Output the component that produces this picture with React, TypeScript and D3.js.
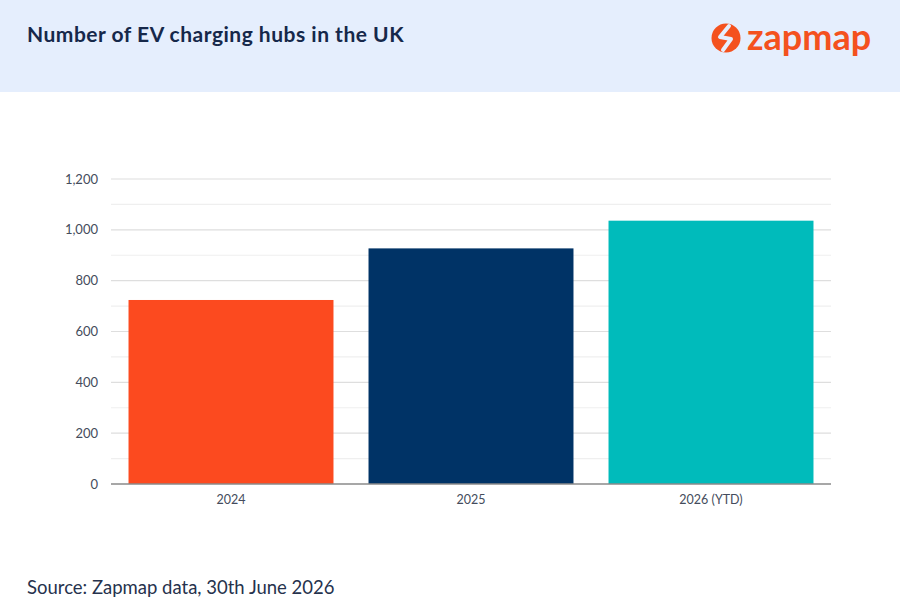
import React, { useEffect, useRef } from 'react';
import * as d3 from 'd3';

// chart data
const years = ['2024', '2025', '2026 (YTD)'];
const hubs = [724, 927, 1036];
const barColours = ['#fc4a1f', '#003366', '#00bbbb'];
const yTicks = [0, 200, 400, 600, 800, 1000, 1200];

const W = 900;
const H = 607;
const margin = { top: 179, right: 69, bottom: 123, left: 111 };
const FONT = 'Lato, "Noto Sans", sans-serif';

const App = () => {
  const svgRef = useRef<SVGSVGElement>(null);

  useEffect(() => {
    document.body.style.margin = '0';
    const svg = d3.select(svgRef.current);
    svg.selectAll('*').remove();

    const width = W - margin.left - margin.right;
    const height = H - margin.top - margin.bottom;

    // header band
    svg.append('rect')
      .attr('width', W).attr('height', 92)
      .attr('fill', '#e5eefd');

    svg.append('text')
      .attr('x', 27).attr('y', 42)
      .attr('font-family', FONT)
      .attr('font-size', 21)
      .attr('font-weight', 700)
      .attr('letter-spacing', 0.5)
      .attr('fill', '#16284a')
      .text('Number of EV charging hubs in the UK');

    // logo
    const logo = svg.append('g').attr('transform', 'translate(726,38)');
    logo.append('circle').attr('r', 14.5).attr('fill', '#f4511e');
    logo.append('path')
      .attr('d', 'M3,-12 L-6,-1 L5,1 L-3,12')
      .attr('fill', 'none')
      .attr('stroke', '#e5eefd')
      .attr('stroke-width', 4)
      .attr('stroke-linejoin', 'round')
      .attr('stroke-linecap', 'round');
    svg.append('text')
      .attr('x', 747).attr('y', 50)
      .attr('font-family', FONT)
      .attr('font-size', 36)
      .attr('font-weight', 700)
      .attr('fill', '#f4511e')
      .text('zapmap');

    const g = svg.append('g')
      .attr('transform', `translate(${margin.left},${margin.top})`);

    const x = d3.scaleBand()
      .domain(years)
      .range([0, width])
      .paddingInner(0.146)
      .paddingOuter(0.073);

    const y = d3.scaleLinear()
      .domain([0, 1200])
      .range([height, 0]);

    // minor + major gridlines every 100
    const gridVals = d3.range(100, 1201, 100);
    g.selectAll('.grid')
      .data(gridVals)
      .enter()
      .append('line')
      .attr('x1', 0).attr('x2', width)
      .attr('y1', d => y(d)).attr('y2', d => y(d))
      .attr('stroke', d => (d % 200 === 0 ? '#dedede' : '#efefef'))
      .attr('stroke-width', 1.2);

    g.selectAll('.bar')
      .data(years)
      .enter()
      .append('rect')
      .attr('x', d => x(d)!)
      .attr('y', (d, i) => y(hubs[i]))
      .attr('width', x.bandwidth())
      .attr('height', (d, i) => height - y(hubs[i]))
      .attr('fill', (d, i) => barColours[i]);

    // baseline
    g.append('line')
      .attr('x1', 0).attr('x2', width)
      .attr('y1', height).attr('y2', height)
      .attr('stroke', '#8a8a8a')
      .attr('stroke-width', 1.5);

    // y tick labels
    g.selectAll('.ytick')
      .data(yTicks)
      .enter()
      .append('text')
      .attr('x', -13)
      .attr('y', d => y(d))
      .attr('dy', '0.35em')
      .attr('text-anchor', 'end')
      .attr('font-family', FONT)
      .attr('font-size', 13)
      .attr('fill', '#444c5c')
      .text(d => d3.format(',')(d));

    // x labels
    g.selectAll('.xtick')
      .data(years)
      .enter()
      .append('text')
      .attr('x', d => x(d)! + x.bandwidth() / 2)
      .attr('y', height + 20)
      .attr('text-anchor', 'middle')
      .attr('font-family', FONT)
      .attr('font-size', 12.5)
      .attr('fill', '#444c5c')
      .text(d => d);

    svg.append('text')
      .attr('x', 27).attr('y', 594)
      .attr('font-family', FONT)
      .attr('font-size', 18.5)
      .attr('fill', '#26324d')
      .text('Source: Zapmap data, 30th June 2026');
  }, []);

  return (
    <div>
      <svg ref={svgRef} width={W} height={H} style={{ display: 'block', background: '#fff' }} />
    </div>
  );
};

export default App;
